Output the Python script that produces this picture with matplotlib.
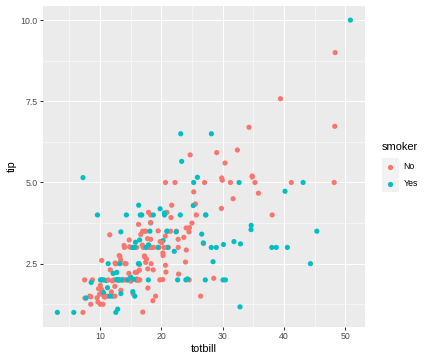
import matplotlib
matplotlib.use("Agg")
import matplotlib.pyplot as plt
from matplotlib.patches import Rectangle

# ---- data (row order preserved so overlaps draw as in the reference) ----
totbill = [16.99, 10.34, 21.01, 23.68, 24.59, 25.29, 8.77, 26.88, 15.04, 14.78,
           10.27, 35.26, 15.42, 18.43, 14.83, 21.58, 10.33, 16.29, 16.97, 20.65,
           17.92, 20.29, 15.77, 39.42, 19.82, 17.81, 13.37, 12.69, 21.70, 19.65,
           9.55, 18.35, 15.06, 20.69, 17.78, 24.06, 16.31, 16.93, 18.69, 31.27,
           16.04, 17.46, 13.94, 9.68, 30.40, 18.29, 22.23, 32.40, 28.55, 18.04,
           12.54, 10.29, 34.81, 9.94, 25.56, 19.49, 38.01, 26.41, 11.24, 48.27,
           20.29, 13.81, 11.02, 18.29, 17.59, 20.08, 16.45, 3.07, 20.23, 15.01,
           12.02, 17.07, 26.86, 25.28, 14.73, 10.51, 17.92, 27.20, 22.76, 17.29,
           19.44, 16.66, 10.07, 32.68, 15.98, 34.83, 13.03, 18.28, 24.71, 21.16,
           28.97, 22.49, 5.75, 16.32, 22.75, 40.17, 27.28, 12.03, 21.01, 12.46,
           11.35, 15.38, 44.30, 22.42, 20.92, 15.36, 20.49, 25.21, 18.24, 14.31,
           14.00, 7.25, 38.07, 23.95, 25.71, 17.31, 29.93, 10.65, 12.43, 24.08,
           11.69, 13.42, 14.26, 15.95, 12.48, 29.80, 8.52, 14.52, 11.38, 22.82,
           19.08, 20.27, 11.17, 12.26, 18.26, 8.51, 10.33, 14.15, 16.00, 13.16,
           17.47, 34.30, 41.19, 27.05, 16.43, 8.35, 18.64, 11.87, 9.78, 7.51,
           14.07, 13.13, 17.26, 24.55, 19.77, 29.85, 48.17, 25.00, 13.39, 16.49,
           21.50, 12.66, 16.21, 13.81, 17.51, 24.52, 20.76, 31.71, 10.59, 10.63,
           50.81, 15.81, 7.25, 31.85, 16.82, 32.90, 17.89, 14.48, 9.60, 34.63,
           34.65, 23.33, 45.35, 23.17, 40.55, 20.69, 20.90, 30.46, 18.15, 23.10,
           15.69, 19.81, 28.44, 15.48, 16.58, 7.56, 10.34, 43.11, 13.00, 13.51,
           18.71, 12.74, 13.00, 16.40, 20.53, 16.47, 26.59, 38.73, 24.27, 12.76,
           30.06, 25.89, 48.33, 13.27, 28.17, 12.90, 28.15, 11.59, 7.74, 30.14,
           12.16, 13.42, 8.58, 15.98, 13.42, 16.27, 10.09, 20.45, 13.28, 22.12,
           24.01, 15.69, 11.61, 10.77, 15.53, 10.07, 12.60, 32.83, 35.83, 29.03,
           27.18, 22.67, 17.82, 18.78]

tip = [1.01, 1.66, 3.50, 3.31, 3.61, 4.71, 2.00, 3.12, 1.96, 3.23,
       1.71, 5.00, 1.57, 3.00, 3.02, 3.92, 1.67, 3.71, 3.50, 3.35,
       4.08, 2.75, 2.23, 7.58, 3.18, 2.34, 2.00, 2.00, 4.30, 3.00,
       1.45, 2.50, 3.00, 2.45, 3.27, 3.60, 2.00, 3.07, 2.31, 5.00,
       2.24, 2.54, 3.06, 1.32, 5.60, 3.00, 5.00, 6.00, 2.05, 3.00,
       2.50, 2.60, 5.20, 1.56, 4.34, 3.51, 3.00, 1.50, 1.76, 6.73,
       3.21, 2.00, 1.98, 3.76, 2.64, 3.15, 2.47, 1.00, 2.01, 2.09,
       1.97, 3.00, 3.14, 5.00, 2.20, 1.25, 3.08, 4.00, 3.00, 2.71,
       3.00, 3.40, 1.83, 5.00, 2.03, 5.17, 2.00, 4.00, 5.85, 3.00,
       3.00, 3.50, 1.00, 4.30, 3.25, 4.73, 4.00, 1.50, 3.00, 1.50,
       2.50, 3.00, 2.50, 3.48, 4.08, 1.64, 4.06, 4.29, 3.76, 4.00,
       3.00, 1.00, 4.00, 2.55, 4.00, 3.50, 5.07, 1.50, 1.80, 2.92,
       2.31, 1.68, 2.50, 2.00, 2.52, 4.20, 1.48, 2.00, 2.00, 2.18,
       1.50, 2.83, 1.50, 2.00, 3.25, 1.25, 2.00, 2.00, 2.00, 2.75,
       3.50, 6.70, 5.00, 5.00, 2.30, 1.50, 1.36, 1.63, 1.73, 2.00,
       2.50, 2.00, 2.74, 2.00, 2.00, 5.14, 5.00, 3.75, 2.61, 2.00,
       3.50, 2.50, 2.00, 2.00, 3.00, 3.48, 2.24, 4.50, 1.61, 2.00,
       10.00, 3.16, 5.15, 3.18, 4.00, 3.11, 2.00, 2.00, 4.00, 3.55,
       3.68, 5.65, 3.50, 6.50, 3.00, 5.00, 3.50, 2.00, 3.50, 4.00,
       1.50, 4.19, 2.56, 2.02, 4.00, 1.44, 2.00, 5.00, 2.00, 2.00,
       4.00, 2.01, 2.00, 2.50, 4.00, 3.23, 3.41, 3.00, 2.03, 2.23,
       2.00, 5.16, 9.00, 2.50, 6.50, 1.10, 3.00, 1.50, 1.44, 3.09,
       2.20, 3.48, 1.92, 3.00, 1.58, 2.50, 2.00, 3.00, 2.72, 2.88,
       2.00, 3.00, 3.39, 1.47, 3.00, 1.25, 1.00, 1.17, 4.67, 5.92,
       2.00, 2.00, 1.75, 3.00]

smoker = ["No", "No", "No", "No", "No", "No", "No", "No", "No", "No",
          "No", "No", "No", "No", "No", "No", "No", "No", "No", "No",
          "No", "No", "No", "No", "No", "No", "No", "No", "No", "No",
          "No", "No", "No", "No", "No", "No", "No", "No", "No", "No",
          "No", "No", "No", "No", "No", "No", "No", "No", "No", "No",
          "No", "No", "No", "No", "No", "No", "Yes", "No", "Yes", "No",
          "Yes", "Yes", "Yes", "Yes", "No", "No", "No", "Yes", "No", "Yes",
          "No", "No", "Yes", "Yes", "No", "No", "Yes", "No", "No", "No",
          "Yes", "No", "No", "Yes", "No", "No", "No", "No", "No", "No",
          "Yes", "No", "Yes", "Yes", "No", "Yes", "Yes", "Yes", "Yes", "No",
          "Yes", "Yes", "Yes", "Yes", "No", "Yes", "Yes", "Yes", "No", "Yes",
          "No", "No", "No", "No", "No", "No", "No", "No", "No", "No",
          "No", "No", "No", "No", "No", "No", "No", "No", "No", "No",
          "No", "No", "No", "No", "No", "No", "No", "No", "Yes", "No",
          "No", "No", "No", "No", "No", "No", "No", "No", "No", "No",
          "No", "No", "No", "No", "No", "No", "No", "No", "No", "No",
          "No", "No", "No", "No", "Yes", "No", "No", "No", "Yes", "Yes",
          "Yes", "Yes", "Yes", "Yes", "Yes", "Yes", "Yes", "Yes", "Yes", "Yes",
          "Yes", "Yes", "Yes", "Yes", "Yes", "No", "Yes", "Yes", "Yes", "Yes",
          "Yes", "Yes", "Yes", "Yes", "Yes", "No", "Yes", "Yes", "Yes", "Yes",
          "Yes", "Yes", "Yes", "Yes", "Yes", "Yes", "Yes", "Yes", "Yes", "Yes",
          "Yes", "Yes", "No", "Yes", "Yes", "Yes", "Yes", "Yes", "Yes", "Yes",
          "Yes", "Yes", "Yes", "No", "Yes", "Yes", "Yes", "No", "No", "Yes",
          "Yes", "Yes", "No", "No", "Yes", "No", "Yes", "Yes", "No", "No",
          "Yes", "Yes", "No", "No"]

categories = ["No", "Yes"]
palette = {"No": "#F8766D", "Yes": "#00BFC4"}

x_ticks = [10, 20, 30, 40, 50]
x_minor = [5, 15, 25, 35, 45]
y_ticks = [2.5, 5.0, 7.5, 10.0]
y_tick_labels = ["2.5", "5.0", "7.5", "10.0"]
y_minor = [1.25, 3.75, 6.25, 8.75]

# ---- figure ----
W, H = 432, 360
plt.rcParams["font.family"] = ["Liberation Sans", "DejaVu Sans"]
fig = plt.figure(figsize=(W / 72, H / 72), dpi=72)

L, R, T, B = 42.7, 365.0, 5.5, 327.0
ax = fig.add_axes([L / W, 1 - B / H, (R - L) / W, (B - T) / H])
ax.set_facecolor("#EBEBEB")
for s in ax.spines.values():
    s.set_visible(False)

n = min(len(totbill), len(tip), len(smoker))
cols = [palette[smoker[i]] for i in range(n)]
ax.scatter(totbill[:n], tip[:n], c=cols, s=27, linewidths=0, zorder=3)

xmin, xmax = min(totbill), max(totbill)
ymin, ymax = min(tip), max(tip)
px, py = 0.05 * (xmax - xmin), 0.05 * (ymax - ymin)
ax.set_xlim(xmin - px, xmax + px)
ax.set_ylim(ymin - py, ymax + py)

ax.set_xticks(x_ticks)
ax.set_xticks(x_minor, minor=True)
ax.set_yticks(y_ticks)
ax.set_yticklabels(y_tick_labels)
ax.set_yticks(y_minor, minor=True)
ax.grid(True, which="major", color="white", linewidth=1.07, zorder=1)
ax.grid(True, which="minor", color="white", linewidth=0.53, zorder=1)
ax.set_axisbelow(True)
ax.tick_params(which="major", length=2.75, width=1.07, color="#333333",
               labelsize=8.8, labelcolor="#4D4D4D", pad=2.2)
ax.tick_params(which="minor", length=0)

ax.set_xlabel("totbill", fontsize=11, color="black", labelpad=3)
ax.set_ylabel("tip", fontsize=11, color="black", labelpad=4)

# ---- legend (drawn in pixel coords) ----
lax = fig.add_axes([0, 0, 1, 1], zorder=5)
lax.set_xlim(0, W)
lax.set_ylim(H, 0)
lax.axis("off")
lax.text(381.5, 147, "smoker", fontsize=11, ha="left", va="center", color="black")
key_top = 158.0
for i, cat in enumerate(categories):
    y0 = key_top + 17.0 * i
    lax.add_patch(Rectangle((381.7, y0), 17.0, 17.0, facecolor="#F2F2F2",
                            edgecolor="none"))
    lax.scatter([390.2], [y0 + 8.5], s=27, c=palette[cat], linewidths=0)
    lax.text(403.5, y0 + 8.5, cat, fontsize=8.8, ha="left", va="center",
             color="black")

fig.savefig("out.png", dpi=72)
